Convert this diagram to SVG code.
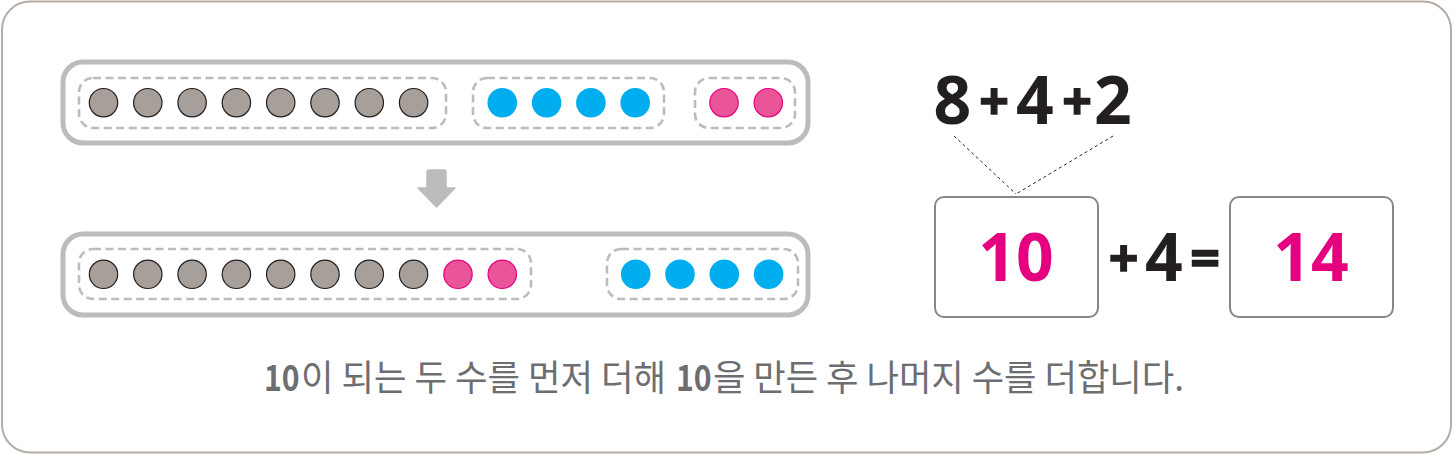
<svg xmlns="http://www.w3.org/2000/svg" width="1454" height="455" viewBox="0 0 1454 455">
<style>
.frame{fill:#fff;stroke:#b4aca5;stroke-width:2}
.bar{fill:#fff;stroke:#bcbcbc;stroke-width:5}
.grp{fill:none;stroke:#bcbcbc;stroke-width:2.6;stroke-dasharray:8 4.5}
.g{fill:#a79f99;stroke:#231f20;stroke-width:1.2}
.b{fill:#00aeef}
.p{fill:#ea5499;stroke:#e4007f;stroke-width:1.2}
.num{font-family:"Noto Sans","DejaVu Sans",sans-serif;font-weight:700;font-size:66px;fill:#231f20;text-anchor:middle}
.pl{font-size:52px;stroke:#231f20;stroke-width:1.4}
.pink{fill:#e4007f}
.box{fill:#fff;stroke:#888;stroke-width:2}
.dot{fill:none;stroke:#231f20;stroke-width:1;stroke-dasharray:3 3}
.cap{font-family:"Noto Sans CJK KR","Noto Sans",sans-serif;font-size:36px;fill:#6d6e71}
.bold{font-weight:700}
</style>
<rect class="frame" x="2" y="1.5" width="1449" height="451" rx="28"/>

<g id="top-row">
<rect class="bar" x="63" y="62" width="745" height="81" rx="20"/>
<rect class="grp" x="79" y="78" width="367" height="50" rx="14"/>
<rect class="grp" x="473" y="78" width="191" height="50" rx="14"/>
<rect class="grp" x="695" y="78" width="100" height="50" rx="14"/>
<g>
<circle class="g" cx="103.5" cy="102.7" r="14.2"/>
<circle class="g" cx="147.8" cy="102.7" r="14.2"/>
<circle class="g" cx="192.1" cy="102.7" r="14.2"/>
<circle class="g" cx="236.4" cy="102.7" r="14.2"/>
<circle class="g" cx="280.7" cy="102.7" r="14.2"/>
<circle class="g" cx="325" cy="102.7" r="14.2"/>
<circle class="g" cx="369.3" cy="102.7" r="14.2"/>
<circle class="g" cx="413.6" cy="102.7" r="14.2"/>
<circle class="b" cx="502.3" cy="102.7" r="14.8"/>
<circle class="b" cx="546.6" cy="102.7" r="14.8"/>
<circle class="b" cx="590.9" cy="102.7" r="14.8"/>
<circle class="b" cx="635.2" cy="102.7" r="14.8"/>
<circle class="p" cx="724" cy="102.7" r="14.2"/>
<circle class="p" cx="768.3" cy="102.7" r="14.2"/>
</g>
</g>

<g id="arrow">
<path d="M429 170 h15 q2 0 2 2 v16 h9 l-18.5 19 l-18.5 -19 h9 v-16 q0-2 2-2z" fill="#bcbcbc" stroke="#bcbcbc" stroke-width="1.5" stroke-linejoin="round"/>
</g>

<g id="bottom-row">
<rect class="bar" x="63" y="234" width="745" height="81" rx="20"/>
<rect class="grp" x="79" y="249" width="452" height="50" rx="14"/>
<rect class="grp" x="607" y="249" width="191" height="50" rx="14"/>
<g>
<circle class="g" cx="103.5" cy="274.3" r="14.2"/>
<circle class="g" cx="147.8" cy="274.3" r="14.2"/>
<circle class="g" cx="192.1" cy="274.3" r="14.2"/>
<circle class="g" cx="236.4" cy="274.3" r="14.2"/>
<circle class="g" cx="280.7" cy="274.3" r="14.2"/>
<circle class="g" cx="325" cy="274.3" r="14.2"/>
<circle class="g" cx="369.3" cy="274.3" r="14.2"/>
<circle class="g" cx="413.6" cy="274.3" r="14.2"/>
<circle class="p" cx="458" cy="274.3" r="14.2"/>
<circle class="p" cx="502.3" cy="274.3" r="14.2"/>
<circle class="b" cx="635.7" cy="274.3" r="14.8"/>
<circle class="b" cx="680" cy="274.3" r="14.8"/>
<circle class="b" cx="724.3" cy="274.3" r="14.8"/>
<circle class="b" cx="768.6" cy="274.3" r="14.8"/>
</g>
</g>

<g id="expression">
<text class="num" x="952.5" y="124">8</text>
<text class="num pl" x="994" y="120">+</text>
<text class="num" x="1035" y="124">4</text>
<text class="num pl" x="1077" y="120">+</text>
<text class="num" x="1113" y="124">2</text>
</g>

<g id="connectors">
<line class="dot" x1="954" y1="136" x2="1016" y2="194"/>
<line class="dot" x1="1113" y1="136" x2="1016" y2="194"/>
</g>

<g id="box-10">
<rect class="box" x="935" y="197" width="163" height="120" rx="9"/>
<text class="num pink" x="1016" y="281">10</text>
</g>
<g id="plus4eq">
<text class="num pl" x="1123.5" y="277">+</text>
<text class="num" x="1164" y="281">4</text>
<text class="num pl" x="1205" y="277">=</text>
</g>
<g id="box-14">
<rect class="box" x="1230" y="197" width="163" height="120" rx="9"/>
<text class="num pink" x="1311" y="281">14</text>
</g>

<g id="caption">
<text class="cap bold" transform="translate(264 391) scale(0.84 1)">10</text>
<text class="cap" x="301" y="391" textLength="365" lengthAdjust="spacingAndGlyphs">이 되는 두 수를 먼저 더해</text>
<text class="cap bold" transform="translate(676 391) scale(0.84 1)">10</text>
<text class="cap" x="713" y="391" textLength="471" lengthAdjust="spacingAndGlyphs">을 만든 후 나머지 수를 더합니다.</text>
</g>
</svg>
